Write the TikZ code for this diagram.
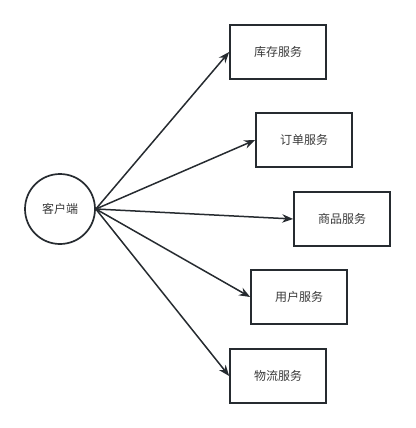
\documentclass[tikz,border=0pt]{standalone}
\usepackage{fontspec}
\newfontfamily\cjk{Noto Sans CJK SC}
\usetikzlibrary{positioning,arrows.meta}
\usepackage{xcolor}
\definecolor{linegray}{HTML}{262B30}
\definecolor{textgray}{HTML}{3A3A3A}

\begin{document}
\begin{tikzpicture}[
  x=1pt, y=-1pt,
  font=\cjk\fontsize{12}{14}\selectfont,
  client/.style={circle, draw=linegray, line width=1.7pt, minimum size=70pt,
                 inner sep=0pt, text=textgray},
  service/.style={rectangle, draw=linegray, line width=1.7pt,
                  minimum width=96pt, minimum height=54pt,
                  inner sep=0pt, text=textgray},
  call/.style={-{Stealth[length=11pt,width=8.5pt]}, draw=linegray, line width=1.5pt},
]

% ---- Canvas (pixel grid of the reference) -----------------------------------
\useasboundingbox (0,0) rectangle (415,428);

% ---- Client -----------------------------------------------------------------
\node[client] (client) at (60,209) {客户端};

% ---- Services (top to bottom) -----------------------------------------------
\node[service] (stock)    at (278,52)  {库存服务};
\node[service] (order)    at (304,140) {订单服务};
\node[service] (goods)    at (342,219) {商品服务};
\node[service] (user)     at (299,297) {用户服务};
\node[service] (logistic) at (278,376) {物流服务};

% ---- Calls ------------------------------------------------------------------
\foreach \svc in {stock,order,goods,user,logistic}{
  \draw[call] (client.east) -- (\svc.west);
}

\end{tikzpicture}
\end{document}
